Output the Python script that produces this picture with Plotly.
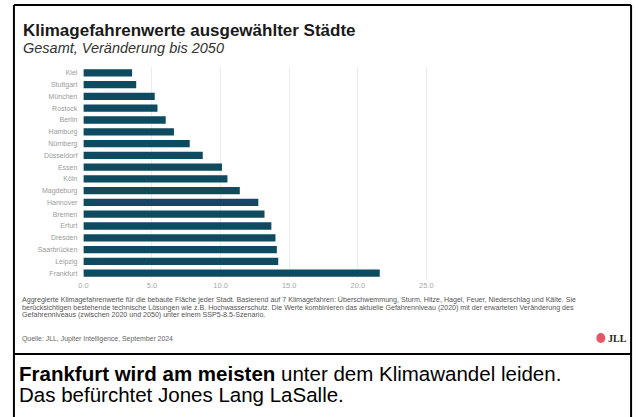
import plotly.graph_objects as go

cities = ["Kiel", "Stuttgart", "München", "Rostock", "Berlin", "Hamburg", "Nürnberg",
          "Düsseldorf", "Essen", "Köln", "Magdeburg", "Hannover", "Bremen", "Erfurt",
          "Dresden", "Saarbrücken", "Leipzig", "Frankfurt"]
values = [3.55, 3.85, 5.2, 5.4, 6.0, 6.6, 7.75, 8.7, 10.1, 10.5, 11.4, 12.75, 13.2,
          13.7, 14.0, 14.1, 14.2, 21.6]
tick_vals = [0, 5, 10, 15, 20, 25]
tick_text = ["0.0", "5.0", "10.0", "15.0", "20.0", "25.0"]

title = "<b>Klimagefahrenwerte ausgewählter Städte</b>"
subtitle = "<i>Gesamt, Veränderung bis 2050</i>"
note_lines = [
    "Aggregierte Klimagefahrenwerte für die bebaute Fläche jeder Stadt. Basierend auf 7 Klimagefahren: Überschwemmung, Sturm, Hitze, Hagel, Feuer, Niederschlag und Kälte. Sie",
    "berücksichtigen bestehende technische Lösungen wie z.B. Hochwasserschutz. Die Werte kombinieren das aktuelle Gefahrenniveau (2020) mit der erwarteten Veränderung des",
    "Gefahrenniveaus (zwischen 2020 und 2050) unter einem SSP5-8.5-Szenario.",
]
source = "Quelle: JLL, Jupiter Intelligence, September 2024"
caption_lines = ["<b>Frankfurt wird am meisten</b> unter dem Klimawandel leiden.",
                 "Das befürchtet Jones Lang LaSalle."]

W, H = 640, 417
def px(x): return x / W
def py(y): return 1 - y / H

fig = go.Figure(go.Bar(
    x=values, y=cities, orientation="h",
    marker=dict(color="#0e4a60", line=dict(width=0)),
    width=0.62,
))

fig.update_layout(
    width=W, height=H,
    margin=dict(l=0, r=0, t=0, b=0),
    paper_bgcolor="white", plot_bgcolor="white",
    showlegend=False,
    font=dict(family="Arial, Liberation Sans, sans-serif"),
    xaxis=dict(domain=[px(79), px(451)], range=[0, 26.9], tickvals=tick_vals, ticktext=tick_text,
               showgrid=True, gridcolor="#ececec", gridwidth=1, zeroline=False,
               tickfont=dict(size=7.5, color="#a8a8a8"), ticks="", showline=False),
    yaxis=dict(domain=[py(279), py(67)], autorange="reversed", showgrid=False,
               tickfont=dict(size=7, color="#9a9a9a"), ticks="", ticklen=0,
               ticklabelstandoff=5, showline=False),
)

ann = []
ann.append(dict(text=title, x=px(16), y=py(30), xref="paper", yref="paper", xanchor="left",
                yanchor="middle", showarrow=False, font=dict(size=17, color="#1a1a1a")))
ann.append(dict(text=subtitle, x=px(16), y=py(48), xref="paper", yref="paper", xanchor="left",
                yanchor="middle", showarrow=False, font=dict(size=14.5, color="#333333")))
for i, line in enumerate(note_lines):
    ann.append(dict(text=line, x=px(15), y=py(300 + 7.6 * i), xref="paper", yref="paper",
                    xanchor="left", yanchor="middle", showarrow=False,
                    font=dict(size=7.1, color="#555555")))
ann.append(dict(text=source, x=px(15), y=py(339), xref="paper", yref="paper", xanchor="left",
                yanchor="middle", showarrow=False, font=dict(size=6.9, color="#666666")))
ann.append(dict(text="<b>JLL</b>", x=px(606), y=py(338), xref="paper", yref="paper",
                xanchor="left", yanchor="middle", showarrow=False,
                font=dict(size=10, color="#222222", family="Liberation Serif, serif")))
for i, line in enumerate(caption_lines):
    ann.append(dict(text=line, x=px(12), y=py(373.5 + 21 * i), xref="paper", yref="paper",
                    xanchor="left", yanchor="middle", align="left", showarrow=False,
                    font=dict(size=20.5, color="#000000")))
fig.update_layout(annotations=ann)

shapes = [
    dict(type="line", xref="paper", yref="paper", x0=px(9), x1=px(9), y0=py(5), y1=-0.05,
         line=dict(color="black", width=2)),
    dict(type="line", xref="paper", yref="paper", x0=px(631), x1=px(631), y0=py(5), y1=-0.05,
         line=dict(color="black", width=2)),
    dict(type="line", xref="paper", yref="paper", x0=px(9), x1=px(631), y0=py(5), y1=py(5),
         line=dict(color="black", width=2)),
    dict(type="line", xref="paper", yref="paper", x0=px(9), x1=px(631), y0=py(354), y1=py(354),
         line=dict(color="black", width=2)),
    dict(type="circle", xref="paper", yref="paper", x0=px(596), x1=px(605), y0=py(343), y1=py(333),
         fillcolor="#e03a4a", line=dict(width=0), opacity=0.85),
]
fig.update_layout(shapes=shapes)

fig.write_html("out.html")
